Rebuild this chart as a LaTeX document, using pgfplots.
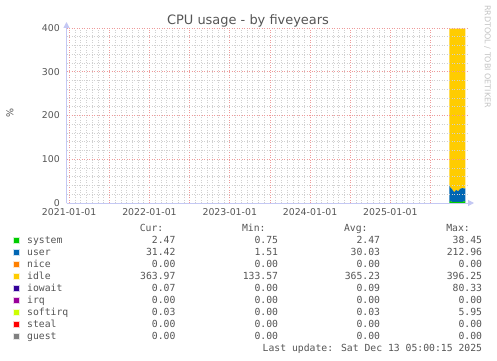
\documentclass[border=0pt]{standalone}
\usepackage{fontspec}
\setmainfont{DejaVu Sans}
\newfontfamily\mono{DejaVu Sans Mono}
\usepackage{pgfplots}
\usepackage{pgfplotstable}
\pgfplotsset{compat=1.18}
\usetikzlibrary{arrows.meta}
\definecolor{csystem}{HTML}{00CC00}
\definecolor{cuser}{HTML}{0066B3}
\definecolor{cnice}{HTML}{FF8000}
\definecolor{cidle}{HTML}{FFCC00}
\definecolor{ciowait}{HTML}{330099}
\definecolor{cirq}{HTML}{990099}
\definecolor{csoftirq}{HTML}{CCFF00}
\definecolor{csteal}{HTML}{FF0000}
\definecolor{cguest}{HTML}{808080}
\definecolor{txt}{HTML}{555555}
\definecolor{axc}{HTML}{C4C8F4}
\definecolor{mgrid}{HTML}{EE9A9A}
\definecolor{gridc}{HTML}{D0D0D0}
\definecolor{wm}{HTML}{C4C4C4}
\newcommand\lgf{\mono\fontsize{9.8}{10}\selectfont}

% x = months since 2021-01-01
\pgfplotstableread{
x     system user idle
56.8  2.5   36.5 359.5
57.0  4.5   30.5 363.5
57.2  2.5   29.5 366.5
57.4  2.5   24.5 371.5
57.6  2.5   22.5 373.5
57.8  2.5   27.5 368.5
58.0  2.5   25.5 370.5
58.2  2.5   25.5 370.5
58.4  2.5   29.5 366.5
58.6  2.5   31.0 365.0
58.8  2.5   31.5 364.5
59.0  4.5   28.5 365.5
59.2  2.5   31.0 365.0
}\cpudata

\begin{document}
\begin{tikzpicture}[x=1bp,y=1bp]
\path[use as bounding box, fill=white] (0,0) rectangle (497,360);
\begin{axis}[
  at={(66.5bp,157bp)}, anchor=south west,
  scale only axis, width=401.5bp, height=175bp,
  xmin=-0.4, xmax=59.6, ymin=0, ymax=400,
  axis lines=left,
  axis on top,
  axis line style={draw=axc, line width=1bp},
  x axis line style={-{Triangle[width=6bp,length=6bp]}, shorten >=-6bp},
  y axis line style={-{Triangle[width=6bp,length=6bp]}, shorten >=-6bp},
  xtick={0,6,...,54},
  xticklabels={2021-01-01,,2022-01-01,,2023-01-01,,2024-01-01,,2025-01-01,},
  ytick={0,100,200,300,400},
  minor x tick num=6,
  minor y tick num=4,
  major tick length=0pt, minor tick length=0pt,
  grid=both,
  major grid style={draw=mgrid, line width=0.6bp, dash pattern=on 0.8bp off 1.7bp},
  minor grid style={draw=gridc, line width=0.6bp, dash pattern=on 0.8bp off 1.7bp},
  /pgf/number format/assume math mode=true,
  tick label style={font=\fontsize{9.4}{10}\selectfont, text=txt, inner sep=0pt},
  xticklabel style={yshift=-5bp},
  yticklabel style={xshift=-6.5bp},
  stack plots=y,
]
\addplot[fill=csystem, draw=none] table[x=x, y=system] {\cpudata} \closedcycle;
\addplot[fill=cuser, draw=none] table[x=x, y=user] {\cpudata} \closedcycle;
\addplot[fill=cidle, draw=none] table[x=x, y=idle] {\cpudata} \closedcycle;
\end{axis}

% title, y label, watermark
\node[anchor=base, text=txt, font=\fontsize{13}{14}\selectfont, inner sep=0pt] at (248,336) {CPU usage - by fiveyears};
\node[rotate=90, text=txt, font=\fontsize{9.5}{10}\selectfont, inner sep=0pt] at (10,247) {\%};
\node[rotate=-90, anchor=west, text=wm, font=\fontsize{8}{9}\selectfont, inner sep=0pt] at (487.5,355) {RRDTOOL / TOBI OETIKER};

% legend header
\node[anchor=base east, text=txt, font=\lgf, inner sep=0pt] at (163.5,128.4) {Cur:};
\node[anchor=base east, text=txt, font=\lgf, inner sep=0pt] at (265.8,128.4) {Min:};
\node[anchor=base east, text=txt, font=\lgf, inner sep=0pt] at (367.8,128.4) {Avg:};
\node[anchor=base east, text=txt, font=\lgf, inner sep=0pt] at (470,128.4) {Max:};

\foreach \nm/\col/\va/\vb/\vc/\vd [count=\k from 0] in {
  system/csystem/2.47/0.75/2.47/38.45,
  user/cuser/31.42/1.51/30.03/212.96,
  nice/cnice/0.00/0.00/0.00/0.00,
  idle/cidle/363.97/133.57/365.23/396.25,
  iowait/ciowait/0.07/0.00/0.09/80.33,
  irq/cirq/0.00/0.00/0.00/0.00,
  softirq/csoftirq/0.03/0.00/0.03/5.95,
  steal/csteal/0.00/0.00/0.00/0.00,
  guest/cguest/0.00/0.00/0.00/0.00}{
  \pgfmathsetmacro\yb{116.4-12*\k}
  \pgfmathsetmacro\ys{120-12*\k}
  \fill[\col, draw=white!80!\col, line width=0.5bp] (13.5,\ys-3) rectangle (19.5,\ys+3);
  \node[anchor=base west, text=txt, font=\lgf, inner sep=0pt] at (27,\yb) {\nm};
  \node[anchor=base east, text=txt, font=\lgf, inner sep=0pt] at (175.7,\yb) {\va};
  \node[anchor=base east, text=txt, font=\lgf, inner sep=0pt] at (278.3,\yb) {\vb};
  \node[anchor=base east, text=txt, font=\lgf, inner sep=0pt] at (380.3,\yb) {\vc};
  \node[anchor=base east, text=txt, font=\lgf, inner sep=0pt] at (482.3,\yb) {\vd};
}
\node[anchor=base east, text=txt, font=\lgf, inner sep=0pt] at (482.3,8.4) {Last update: Sat Dec 13 05:00:15 2025};
\end{tikzpicture}
\end{document}
